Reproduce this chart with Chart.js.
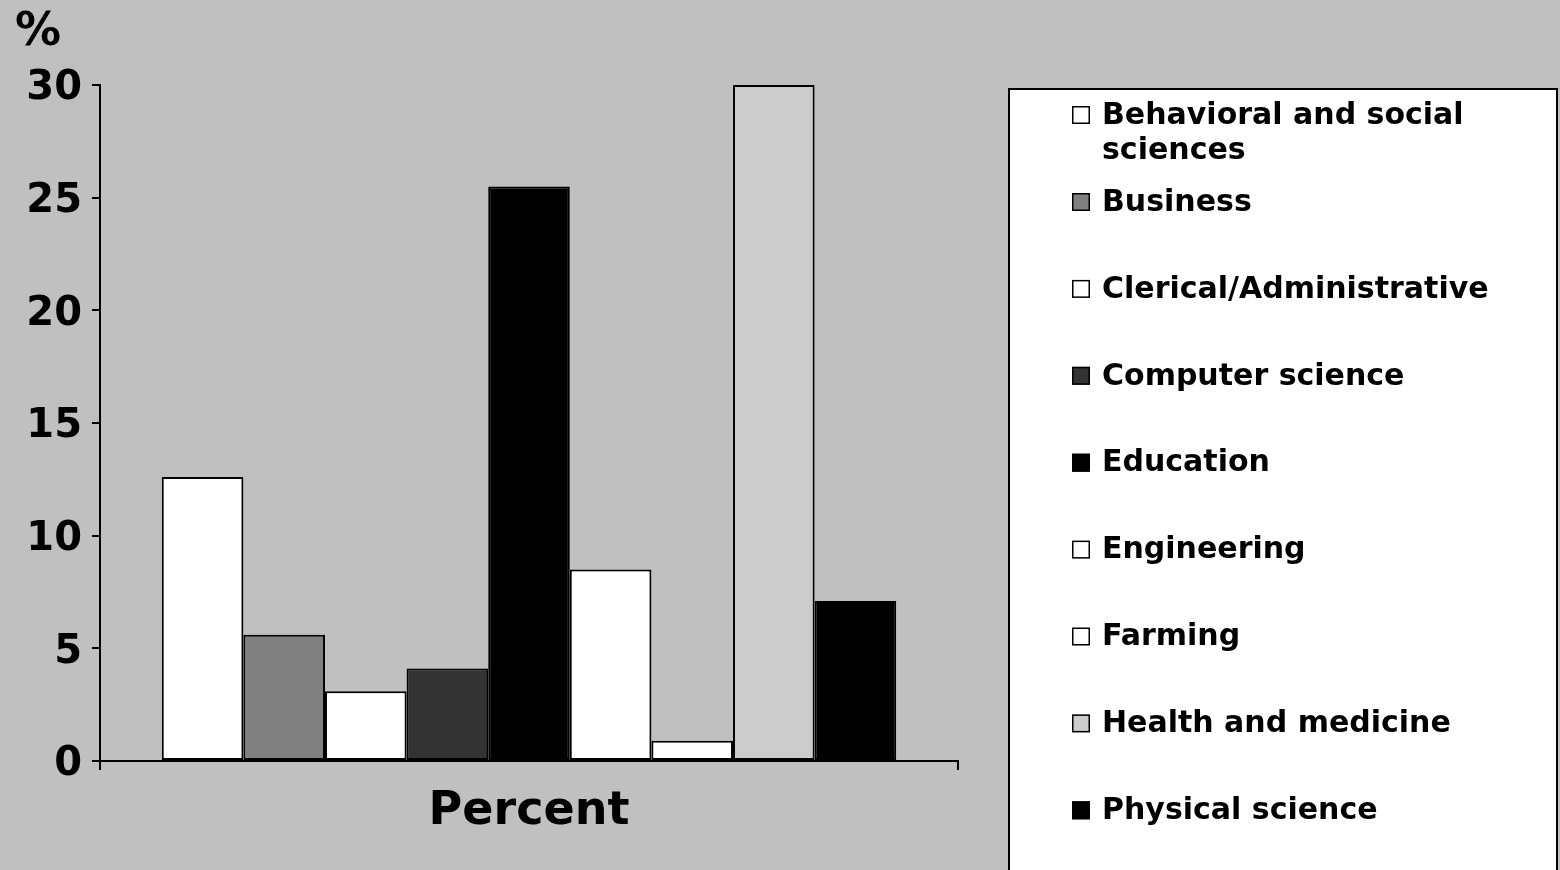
<!DOCTYPE html>
<html>
<head>
<meta charset="utf-8">
<script src="https://cdn.jsdelivr.net/npm/chart.js@4"></script>
<style>
  html, body { margin: 0; padding: 0; background: #c0c0c0; }
  #wrap { width: 1560px; height: 870px; }
</style>
</head>
<body>
<div id="wrap"><canvas id="chart"></canvas></div>
<script>
const categories = ["Percent"];
const fields = [
  "Behavioral and social sciences",
  "Business",
  "Clerical/Administrative",
  "Computer science",
  "Education",
  "Engineering",
  "Farming",
  "Health and medicine",
  "Physical science"
];
const percents = [12.6, 5.6, 3.1, 4.1, 25.5, 8.5, 0.9, 30, 7.1];
const fills = ["#ffffff", "#808080", "#ffffff", "#333333", "#000000", "#ffffff", "#ffffff", "#cccccc", "#000000"];
const legendLines = [
  ["Behavioral and social", "sciences"],
  ["Business"], ["Clerical/Administrative"], ["Computer science"], ["Education"],
  ["Engineering"], ["Farming"], ["Health and medicine"], ["Physical science"]
];
const yTicks = [0, 5, 10, 15, 20, 25, 30];

const FONT = "'DejaVu Sans', Verdana, sans-serif";

// legend box + "%" label drawn on the canvas
const extras = {
  id: "extras",
  afterDraw(chart) {
    const ctx = chart.ctx;
    ctx.save();
    ctx.fillStyle = "#000";
    ctx.font = "bold 46px " + FONT;
    ctx.textBaseline = "alphabetic";
    ctx.fillText("%", 15, 45);

    ctx.fillStyle = "#fff";
    ctx.fillRect(1009, 89, 548, 800);
    ctx.strokeStyle = "#000";
    ctx.lineWidth = 2;
    ctx.strokeRect(1009, 89, 548, 800);

    ctx.font = "bold 30px " + FONT;
    ctx.textBaseline = "middle";
    let cy = 115;
    chart.data.datasets.forEach((ds, i) => {
      const lines = legendLines[i];
      ctx.fillStyle = ds.backgroundColor;
      ctx.fillRect(1072, cy - 9, 18, 18);
      ctx.lineWidth = 1.5;
      ctx.strokeStyle = "#000";
      ctx.strokeRect(1072.75, cy - 8.25, 16.5, 16.5);
      ctx.fillStyle = "#000";
      lines.forEach((t, k) => ctx.fillText(t, 1102, cy + 1 + k * 35));
      cy = (i === 0) ? 202 : cy + 86.9;
    });
    ctx.restore();
  }
};

new Chart(document.getElementById("chart"), {
  type: "bar",
  data: {
    labels: categories,
    datasets: fields.map((f, i) => ({
      label: f,
      data: [percents[i]],
      backgroundColor: fills[i],
      borderColor: "#000",
      borderWidth: 2,
      borderSkipped: false,
      categoryPercentage: 0.856,
      barPercentage: 1
    }))
  },
  options: {
    responsive: true,
    maintainAspectRatio: false,
    animation: false,
    layout: { padding: { left: 0, top: 85, right: 602, bottom: 0 } },
    plugins: { legend: { display: false }, tooltip: { enabled: false } },
    scales: {
      x: {
        grid: { display: true, drawOnChartArea: false, color: "#000", lineWidth: 2, tickLength: 9 },
        border: { color: "#000", width: 2 },
        ticks: { color: "#000", font: { family: FONT, size: 46, weight: "bold" }, padding: 14 },
        afterFit: s => { s.height = 109; }
      },
      y: {
        min: 0,
        max: 30,
        afterBuildTicks: s => { s.ticks = yTicks.map(v => ({ value: v })); },
        grid: { display: true, drawOnChartArea: false, color: "#000", lineWidth: 2, tickLength: 8 },
        border: { color: "#000", width: 2 },
        ticks: { color: "#000", font: { family: FONT, size: 40, weight: "bold" }, padding: 10, labelOffset: 4 },
        afterFit: s => { s.width = 100; }
      }
    }
  },
  plugins: [extras]
});
</script>
</body>
</html>
